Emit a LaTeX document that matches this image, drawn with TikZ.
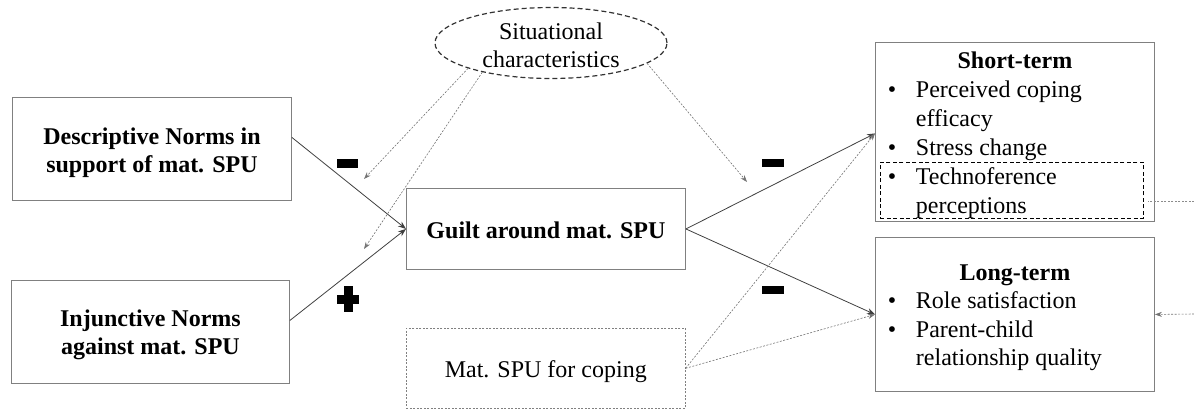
\documentclass[tikz,border=0pt]{standalone}
\usepackage{fontspec}
\setmainfont{Liberation Serif}
\usetikzlibrary{shapes.geometric,arrows.meta,calc}
\begin{document}
\begin{tikzpicture}[x=1pt,y=-1pt,
  box/.style={draw=black!50,line width=0.9pt,rectangle,inner sep=0pt,anchor=north west},
  bigtext/.style={font=\fontsize{24}{28}\selectfont,align=center,inner sep=0pt},
  solidarrow/.style={draw=black!75,line width=0.8pt,-{Stealth[length=8pt,width=6pt]}},
  dotarrow/.style={draw=black!55,line width=0.6pt,dash pattern=on 2pt off 1.5pt,-{Stealth[length=7pt,width=5pt]}},
  dotline/.style={draw=black!45,line width=0.6pt,dash pattern=on 2pt off 1.5pt},
  signbar/.style={fill=black,inner sep=0pt,rectangle}]
\useasboundingbox (0,0) rectangle (1194,409);
% boxes
\node[box,minimum width=279,minimum height=103] (desc) at (12,97) {};
\node[bigtext] (desctext) at ($(desc.center)+(0,3.5)$)
  {\textbf{Descriptive Norms in}\\\textbf{support of mat. SPU}};
\node[box,minimum width=278,minimum height=103] (inj) at (11,280) {};
\node[bigtext] (injtext) at ($(inj.center)+(0,3)$)
  {\textbf{Injunctive Norms}\\\textbf{against mat. SPU}};
\node[box,minimum width=279,minimum height=81] (guilt) at (406,188) {};
\node[bigtext] (guilttext) at ($(guilt.center)+(0,1.5)$) {\textbf{Guilt around mat. SPU}};
\node[box,draw=black!50,line width=0.6pt,dash pattern=on 2pt off 1.5pt,minimum width=279,minimum height=80] (mat) at (406,328) {};
\node[bigtext] (mattext) at ($(mat.center)+(0,3)$) {Mat. SPU for coping};
\node[ellipse,draw=black!80,line width=1.2pt,dash pattern=on 5pt off 3pt,minimum width=232,minimum height=71,inner sep=0pt] (sit) at (551,43) {};
\node[bigtext] (sittext) at ($(sit.center)+(0,2.5)$) {Situational\\characteristics};
\node[box,minimum width=279,minimum height=179] (st) at (875,42) {};
\node[inner sep=0pt,font=\fontsize{24}{29}\selectfont] (sttext) at ($(st.center)+(0,3)$)
  {\begin{tabular}{@{}p{28pt}@{}p{226pt}@{}}
   \multicolumn{2}{@{}c@{}}{\textbf{Short-term}}\\
   \textbullet & Perceived coping\\
    & efficacy\\
   \textbullet & Stress change\\
   \textbullet & Technoference\\
    & perceptions
   \end{tabular}};
\node[box,draw=black,line width=0.9pt,dash pattern=on 4pt off 2.5pt,minimum width=263,minimum height=56] (tech) at (880,162) {};
\node[box,minimum width=279,minimum height=154] (lt) at (875,237) {};
\node[inner sep=0pt,font=\fontsize{24}{28.5}\selectfont] (lttext) at ($(lt.center)+(0,3)$)
  {\begin{tabular}{@{}p{28pt}@{}p{226pt}@{}}
   \multicolumn{2}{@{}c@{}}{\textbf{Long-term}}\\
   \textbullet & Role satisfaction\\
   \textbullet & Parent-child\\
    & relationship quality
   \end{tabular}};
% signs
\node[signbar,minimum width=21,minimum height=9] (m1) at (347.5,163.5) {};
\node[signbar,minimum width=22,minimum height=8.5] (m2) at (773,163) {};
\node[signbar,minimum width=22,minimum height=8.5] (m3) at (773,290) {};
\node[signbar,minimum width=22,minimum height=9] (p1h) at (348,299) {};
\node[signbar,minimum width=9,minimum height=26] (p1v) at (348,299) {};
% free ends
\coordinate (e1) at (364,179);
\coordinate (e2) at (364,249);
\coordinate (e3) at (747,182);
\coordinate (rin1) at (1194,201);
\coordinate (rin2) at (1194,314);
% solid connectors
\draw[solidarrow] ([yshift=11.5pt]desc.east) -- (guilt.west);
\draw[solidarrow] ([yshift=11.5pt]inj.east) -- (guilt.west);
\draw[solidarrow] (guilt.east) -- ([yshift=-1.5pt]st.west);
\draw[solidarrow] (guilt.east) -- (lt.west);
% dotted connectors
\draw[dotarrow] (sit.197) -- (e1);
\draw[dotarrow] (sit.203) -- (e2);
\draw[dotarrow] (sit.-12) -- (e3);
\draw[dotarrow] (mat.east) -- ([yshift=-1.5pt]st.west);
\draw[dotarrow] (mat.east) -- (lt.west);
\draw[dotline] (rin1) -- ($(tech.east |- rin1)+(4,0)$);
\draw[dotarrow] (rin2) -- (lt.east);
\end{tikzpicture}
\end{document}
